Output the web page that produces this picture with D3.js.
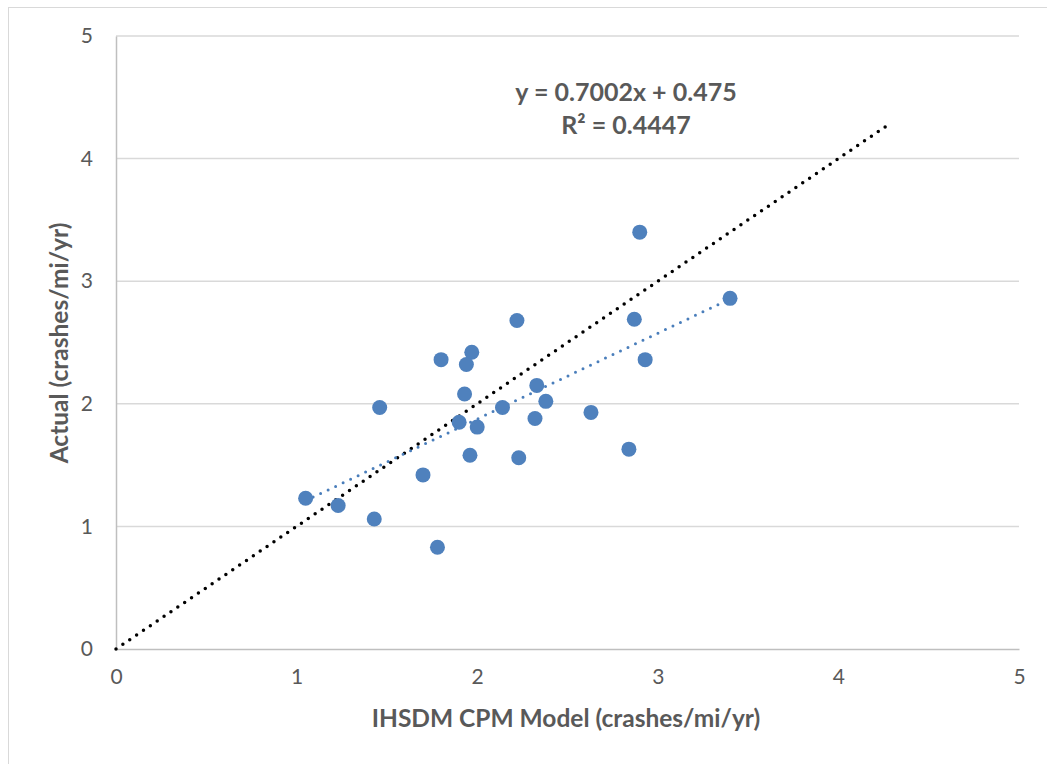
<!DOCTYPE html>
<html>
<head>
<meta charset="utf-8">
<script src="https://cdn.jsdelivr.net/npm/d3@7"></script>
<style>
  body { margin: 0; background: #fff; }
  text { font-family: Lato, "Open Sans", sans-serif; fill: #595959; }
</style>
</head>
<body>
<svg width="1047" height="764"></svg>
<script>
// model (x) vs actual (y) crash rates
let modelX = [2.22, 1.97, 1.80, 1.94, 1.93, 1.46, 2.33, 2.38, 2.14, 2.63, 2.32, 1.90, 2.00,
              1.96, 2.23, 1.70, 1.05, 1.23, 1.43, 1.78, 2.90, 3.40, 2.87, 2.93, 2.84];
let actualY = [2.68, 2.42, 2.36, 2.32, 2.08, 1.97, 2.15, 2.02, 1.97, 1.93, 1.88, 1.85, 1.81,
               1.58, 1.56, 1.42, 1.23, 1.17, 1.06, 0.83, 3.40, 2.86, 2.69, 2.36, 1.63];
let ticks = [0, 1, 2, 3, 4, 5];
let slope = 0.7002, intercept = 0.475, r2 = 0.4447;
let refLine = [0, 4.27]; // the 1:1 line

let svg = d3.select("svg");

let x = d3.scaleLinear().domain([0, 5]).range([116, 1019]);
let y = d3.scaleLinear().domain([0, 5]).range([649, 36]);

// outer chart border (only top/left visible)
svg.append("rect")
    .attr("x", 8.5).attr("y", 7.5)
    .attr("width", 1100).attr("height", 800)
    .attr("fill", "#fff")
    .attr("stroke", "#d9d9d9");

// horizontal grid
svg.append("g")
    .selectAll("line")
    .data(ticks.slice(1))
    .enter().append("line")
    .attr("x1", x(0)).attr("x2", x(5))
    .attr("y1", d => y(d)).attr("y2", d => y(d))
    .attr("stroke", "#d9d9d9").attr("stroke-width", 1.5);

// axes
let xAxis = svg.append("g")
    .attr("transform", "translate(0," + y(0) + ")")
    .call(d3.axisBottom(x).tickValues(ticks).tickSize(0).tickPadding(20).tickFormat(d3.format("d")));
let yAxis = svg.append("g")
    .attr("transform", "translate(" + x(0) + ",0)")
    .call(d3.axisLeft(y).tickValues(ticks).tickSize(0).tickPadding(23).tickFormat(d3.format("d")));

[xAxis, yAxis].forEach(a => {
  a.select(".domain").attr("stroke", "#bfbfbf").attr("stroke-width", 1.5);
  a.selectAll("text").style("font-size", "21px").attr("fill", "#595959");
});

// 1:1 reference line (black dotted)
svg.append("line")
    .attr("x1", x(refLine[0])).attr("y1", y(refLine[0]))
    .attr("x2", x(refLine[1])).attr("y2", y(refLine[1]))
    .attr("stroke", "#000")
    .attr("stroke-width", 3.5)
    .attr("stroke-linecap", "round")
    .attr("stroke-dasharray", "0 8.3");

// linear trendline
let xExt = d3.extent(modelX);
svg.append("line")
    .attr("x1", x(xExt[0])).attr("y1", y(slope * xExt[0] + intercept))
    .attr("x2", x(xExt[1])).attr("y2", y(slope * xExt[1] + intercept))
    .attr("stroke", "#4a7ebb")
    .attr("stroke-width", 3)
    .attr("stroke-linecap", "round")
    .attr("stroke-dasharray", "0 8.3");

// points
svg.append("g")
    .selectAll("circle")
    .data(modelX.map((d, i) => [d, actualY[i]]))
    .enter().append("circle")
    .attr("cx", d => x(d[0]))
    .attr("cy", d => y(d[1]))
    .attr("r", 7.5)
    .attr("fill", "#4f81bd");

// trendline label
let eq = svg.append("text")
    .attr("text-anchor", "middle")
    .style("font-size", "25px")
    .style("font-weight", "bold");
eq.append("tspan").attr("x", 626).attr("y", 101)
    .text("y = " + slope + "x + " + intercept);
eq.append("tspan").attr("x", 626).attr("y", 134)
    .text("R² = " + r2);

// axis titles
svg.append("text")
    .attr("x", 566).attr("y", 727)
    .attr("text-anchor", "middle")
    .style("font-size", "24.5px").style("font-weight", "bold")
    .text("IHSDM CPM Model (crashes/mi/yr)");

svg.append("text")
    .attr("transform", "translate(68,343) rotate(-90)")
    .attr("text-anchor", "middle")
    .style("font-size", "24.5px").style("font-weight", "bold")
    .text("Actual (crashes/mi/yr)");
</script>
</body>
</html>
